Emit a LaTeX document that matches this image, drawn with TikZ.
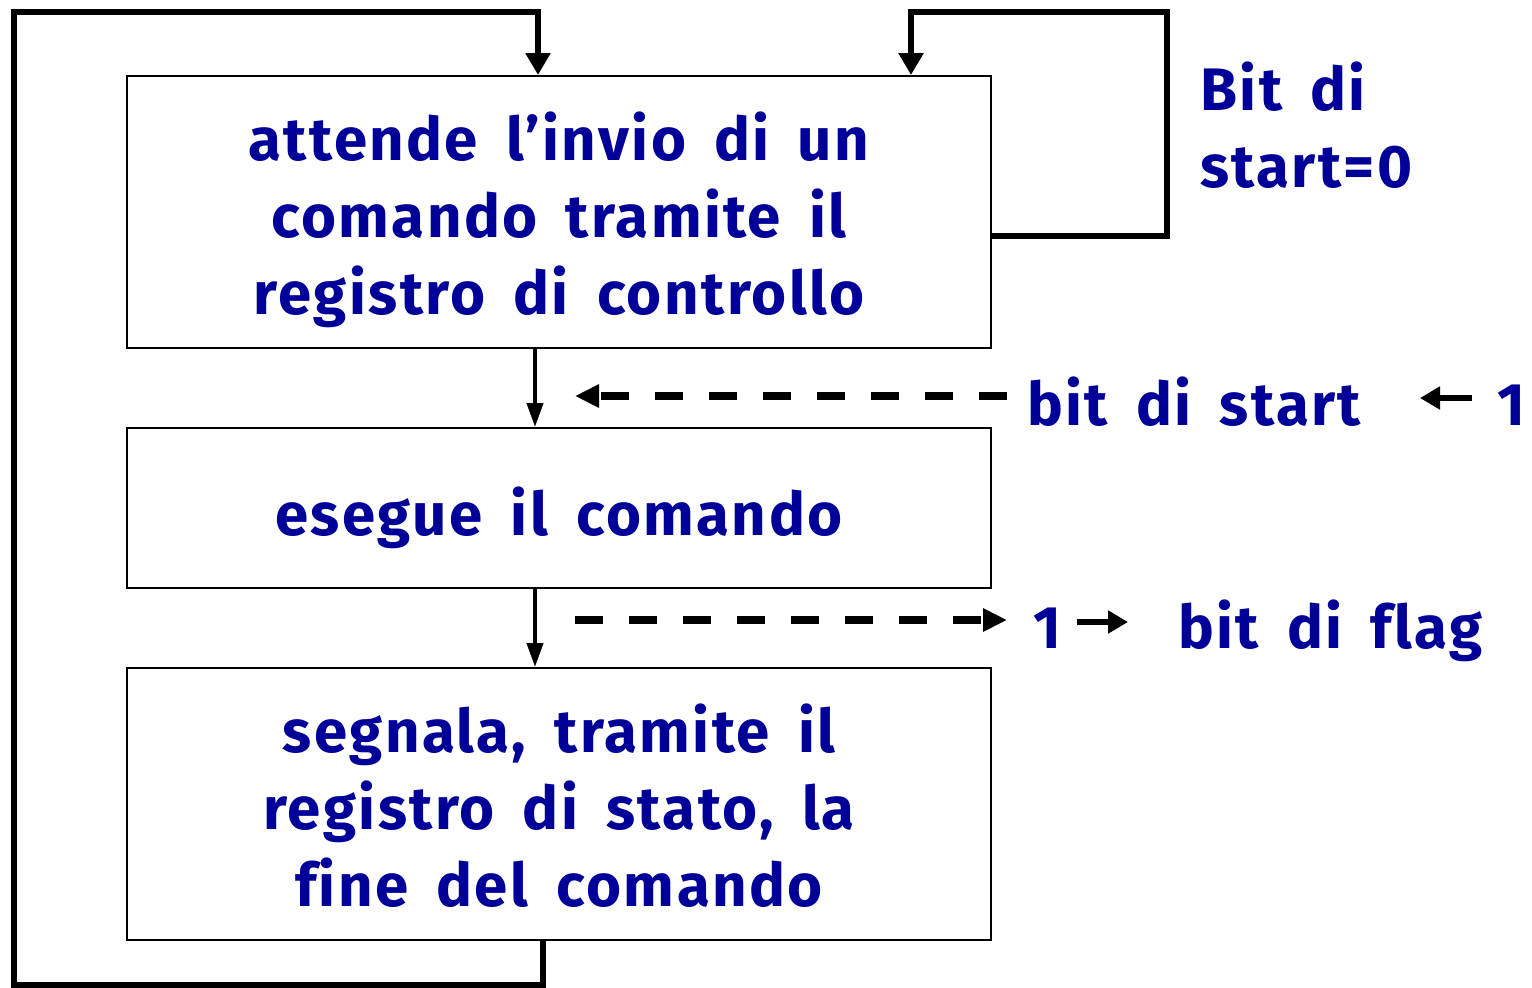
\documentclass[tikz,border=0pt]{standalone}
\usepackage{fontspec}
\setmainfont{Fira Sans}[WordSpace=1.7,LetterSpace=4,Ligatures={NoCommon}]
\usetikzlibrary{arrows.meta}
\definecolor{navy}{RGB}{0,0,153}
\tikzset{
  box/.style={draw=black, line width=1pt, minimum width=432pt, inner sep=0pt},
  txt/.style={text=navy, font=\fontsize{30}{38.5}\selectfont\bfseries, inner sep=0pt, align=center},
  lbl/.style={text=navy, font=\fontsize{30}{38.5}\selectfont\bfseries, inner sep=0pt, align=left},
  big/.style={line width=2.8pt, line join=miter, -{Triangle[length=11pt,width=12pt]}},
  flow/.style={line width=2pt, -{Triangle[length=12pt,width=8pt]}},
  dasharrow/.style={line width=4pt, dash pattern=on 14pt off 13pt, -{Triangle[length=12pt,width=11pt]}},
  smallarrow/.style={line width=3.2pt, -{Triangle[length=10pt,width=11pt]}}
}
\begin{document}
\begin{tikzpicture}[x=0.5pt,y=-0.5pt]
\useasboundingbox (0,0) rectangle (1532,987);
\node[box, minimum height=136pt] (b1) at (559,212) {};
\node[box, minimum height=80pt] (b2) at (559,508) {};
\node[box, minimum height=136pt] (b3) at (559,804) {};
\node[txt] (t1) at (559,220) {attende l’invio di un\\comando tramite il\\registro di controllo};
\node[txt] (t2) at (559,518) {esegue il comando};
\node[txt] (t3) at (559,806) {segnala, tramite il\\registro di stato, la\\fine del comando};

\coordinate (xf) at (535,0);
\draw[flow] (b1.south -| xf) -- (b2.north -| xf);
\draw[flow] (b2.south -| xf) -- (b3.north -| xf);

% big loop
\coordinate (lb) at (543,985);
\coordinate (ll) at (14,985);
\coordinate (lt) at (14,12);
\coordinate (lr) at (538,12);
\draw[big] (b3.south -| lb) -- (lb) -- (ll) -- (lt) -- (lr) -- (b1.north -| lr);

% self loop
\coordinate (sr) at (1167,236);
\coordinate (srt) at (1167,12);
\coordinate (slt) at (911,12);
\draw[big] (b1.east |- sr) -- (sr) -- (srt) -- (slt) -- (b1.north -| slt);
\node[lbl, anchor=base west] (bs0) at (1200,187) {Bit di\\start=0};

% start bit
\node[lbl, anchor=base west] (bstart) at (1027,425) {bit di start};
\node[lbl, anchor=base west] (one1) at (1497,425) {1};
\coordinate (ds) at (575,396);
\coordinate (de) at (1007,396);
\draw[dasharrow] (de) -- (ds);
\coordinate (sa1) at (1472,398);
\coordinate (sa2) at (1420,398);
\draw[smallarrow] (sa1) -- (sa2);

% flag bit
\node[lbl, anchor=base west] (one2) at (1033,648) {1};
\node[lbl, anchor=base west] (bflag) at (1178,648) {bit di flag};
\coordinate (fs) at (575,620);
\coordinate (fe) at (1007,620);
\draw[dasharrow] (fs) -- (fe);
\coordinate (fa1) at (1077,622);
\coordinate (fa2) at (1128,622);
\draw[smallarrow] (fa1) -- (fa2);
\end{tikzpicture}
\end{document}
